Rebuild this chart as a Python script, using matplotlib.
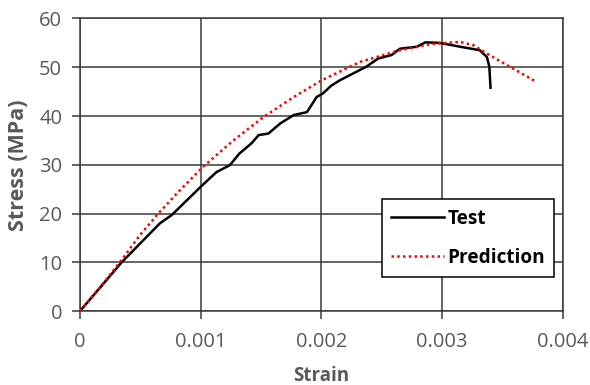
import matplotlib.pyplot as plt

plt.rcParams['font.family'] = ['Open Sans', 'DejaVu Sans']

# Measured stress-strain curve
test_strain = [0, 0.000345, 0.000662, 0.00076, 0.001, 0.00113, 0.00124, 0.00132,
               0.00142, 0.00148, 0.00156, 0.00166, 0.00177, 0.00188, 0.00196,
               0.00201, 0.00208, 0.00215, 0.00226, 0.00237, 0.00247, 0.00258,
               0.00265, 0.00279, 0.00286, 0.00298, 0.00315, 0.00331, 0.00337,
               0.00339, 0.0034]
test_stress = [0, 10.0, 18.0, 19.7, 25.5, 28.5, 29.9, 32.3,
               34.4, 36.1, 36.4, 38.5, 40.2, 40.8, 43.9,
               44.6, 46.2, 47.3, 48.7, 50.1, 51.8, 52.5,
               53.8, 54.2, 55.1, 55.0, 54.2, 53.5, 52.1,
               50.1, 45.8]

# Model prediction
pred_strain = [0, 0.000193, 0.000345, 0.000497, 0.000648, 0.000828, 0.00102,
               0.00127, 0.00152, 0.00177, 0.002, 0.00232, 0.00265, 0.00292,
               0.00315, 0.00326, 0.00337, 0.00356, 0.00378]
pred_stress = [0, 5.7, 10.5, 15.6, 20.0, 24.8, 29.6,
               35.0, 39.8, 43.9, 47.3, 51.1, 53.5, 54.8,
               55.2, 54.5, 52.8, 50.1, 47.0]

x_ticks = [0, 0.001, 0.002, 0.003, 0.004]
x_labels = ['0', '0.001', '0.002', '0.003', '0.004']
y_ticks = [0, 10, 20, 30, 40, 50, 60]

grid_col = '#3a3a3a'
label_col = '#595959'

fig = plt.figure(figsize=(5.9, 3.85), dpi=100)
ax = fig.add_axes([0.1356, 0.192, 0.8186, 0.760])

ax.plot(test_strain, test_stress, color='black', lw=1.8, label='Test', zorder=3)
ax.plot(pred_strain, pred_stress, color='red', lw=1.8, ls=(0, (1, 1.3)),
        label='Prediction', zorder=3)

ax.set_xlim(0, 0.004)
ax.set_ylim(0, 60)
ax.set_xticks(x_ticks)
ax.set_xticklabels(x_labels)
ax.set_yticks(y_ticks)

ax.grid(True, color=grid_col, lw=1.1)
for s in ax.spines.values():
    s.set_color(grid_col)
    s.set_linewidth(1.1)
ax.tick_params(colors=grid_col, width=1.1, length=5.8, labelsize=14.5,
               labelcolor=label_col)
ax.tick_params(axis='x', pad=9)
ax.tick_params(axis='y', pad=7)

ax.set_xlabel('Strain', fontsize=13.5, fontweight='bold', color=label_col, labelpad=10)
ax.set_ylabel('Stress (MPa)', fontsize=15.5, fontweight='bold', color=label_col,
              labelpad=7)

# legend box pinned by its upper-left corner (figure fraction)
leg = ax.legend(loc='upper left', bbox_to_anchor=(381.7 / 590, 1 - 199.3 / 385),
                bbox_transform=fig.transFigure, borderaxespad=0,
                fancybox=False, framealpha=1, edgecolor='black',
                prop={'weight': 'bold', 'size': 13.7}, handlelength=2.75,
                borderpad=0.5, labelspacing=1.0, handletextpad=0.2)
leg.get_frame().set_linewidth(1.1)

fig.savefig('out.png', dpi=100)
